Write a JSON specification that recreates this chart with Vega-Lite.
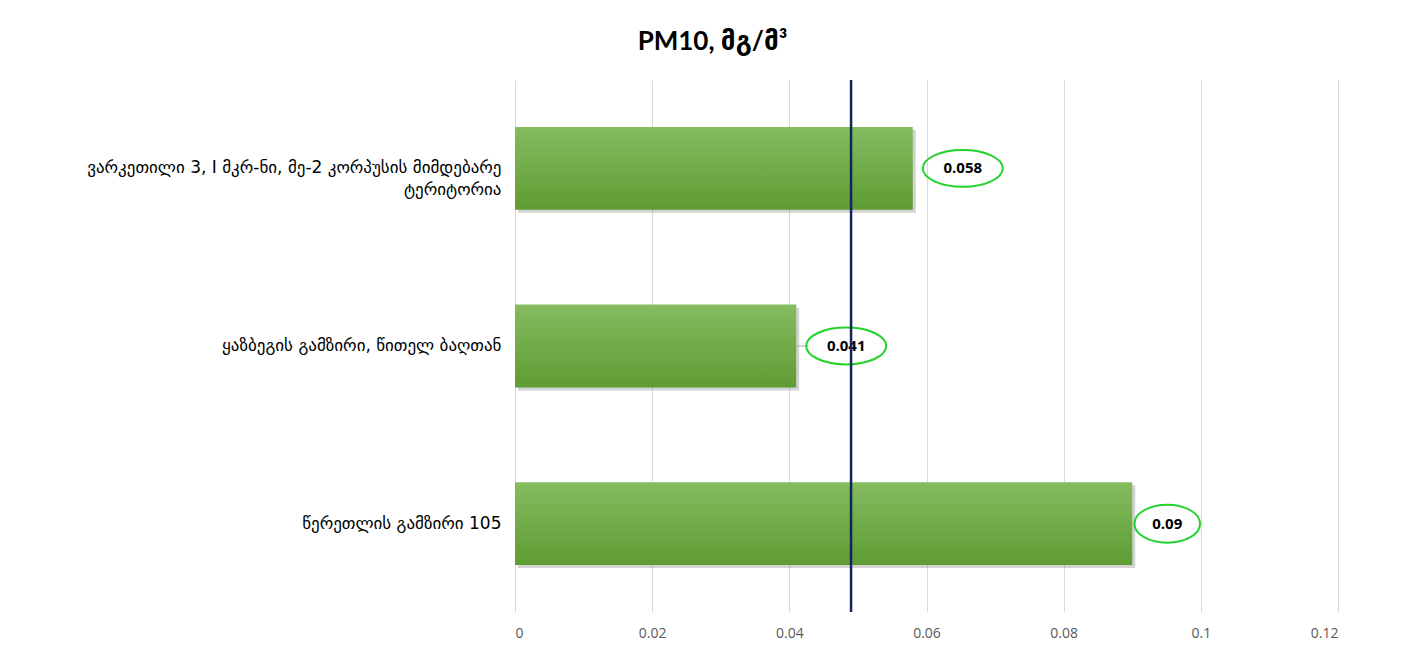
{
  "$schema": "https://vega.github.io/schema/vega-lite/v6.json",
  "autosize": {"type": "none"},
  "width": 823,
  "height": 532,
  "padding": {"left": 515, "top": 80, "right": 88, "bottom": 50},
  "background": "white",
  "title": {
    "text": "PM10,  მგ/მ³",
    "anchor": "middle",
    "dx": -214,
    "offset": 24,
    "fontSize": 26,
    "fontWeight": "bold",
    "font": "Lato, DejaVu Sans",
    "color": "#000000"
  },
  "config": {"view": {"stroke": null}},
  "data": {
    "values": [
      {"location": "ვარკეთილი 3, I მკრ-ნი, მე-2 კორპუსის მიმდებარე|ტერიტორია", "value": 0.058},
      {"location": "ყაზბეგის გამზირი, წითელ ბაღთან", "value": 0.041},
      {"location": "წერეთლის გამზირი 105", "value": 0.09}
    ]
  },
  "layer": [
    {
      "encoding": {
        "y": {
          "field": "location",
          "type": "nominal",
          "sort": null,
          "scale": {"paddingInner": 0.534, "paddingOuter": 0.264},
          "axis": {
            "title": null,
            "domain": false,
            "ticks": false,
            "labelPadding": 14,
            "labelFont": "DejaVu Sans",
            "labelFontSize": 17,
            "labelColor": "#000000",
            "labelLimit": 600,
            "labelLineHeight": 22,
            "labelExpr": "split(datum.label, '|')"
          }
        }
      },
      "layer": [
        {
          "mark": {"type": "bar", "color": "#7f7f7f", "opacity": 0.35, "xOffset": 3, "yOffset": 3, "x2Offset": 3},
          "encoding": {
            "x": {
              "field": "value",
              "type": "quantitative",
              "scale": {"domain": [0, 0.12], "nice": false},
              "axis": {
                "title": null,
                "values": [0, 0.02, 0.04, 0.06, 0.08, 0.1, 0.12],
                "format": "~g",
                "domain": false,
                "ticks": false,
                "grid": true,
                "gridColor": "#d9d9d9",
                "labelFont": "Open Sans",
                "labelFontSize": 14,
                "labelColor": "#595959",
                "labelPadding": 14
              }
            }
          }
        },
        {
          "mark": {
            "type": "bar",
            "color": {
              "gradient": "linear",
              "x1": 0, "y1": 0, "x2": 0, "y2": 1,
              "stops": [
                {"offset": 0, "color": "#84bc60"},
                {"offset": 1, "color": "#5e9c33"}
              ]
            }
          },
          "encoding": {
            "x": {"field": "value", "type": "quantitative"}
          }
        },
        {
          "transform": [{"filter": "datum.value == 0.041"}],
          "mark": {"type": "rule", "color": "#a6a6a6", "strokeWidth": 1, "x2Offset": 12},
          "encoding": {
            "x": {"field": "value", "type": "quantitative"},
            "x2": {"field": "value"}
          }
        },
        {
          "transform": [{"filter": "datum.value != 0.09"}],
          "mark": {
            "type": "point",
            "shape": "M-1,0 A1,0.46 0 1,1 1,0 A1,0.46 0 1,1 -1,0 Z",
            "size": 6400,
            "filled": true,
            "fill": "white",
            "fillOpacity": 0,
            "stroke": "#22d32b",
            "strokeWidth": 2,
            "xOffset": 50
          },
          "encoding": {
            "x": {"field": "value", "type": "quantitative"}
          }
        },
        {
          "transform": [{"filter": "datum.value == 0.09"}],
          "mark": {
            "type": "point",
            "shape": "M-1,0 A1,0.58 0 1,1 1,0 A1,0.58 0 1,1 -1,0 Z",
            "size": 4300,
            "filled": true,
            "fill": "white",
            "fillOpacity": 0,
            "stroke": "#22d32b",
            "strokeWidth": 2,
            "xOffset": 35
          },
          "encoding": {
            "x": {"field": "value", "type": "quantitative"}
          }
        },
        {
          "transform": [{"filter": "datum.value != 0.09"}],
          "mark": {"type": "text", "font": "Open Sans", "fontSize": 15, "fontWeight": "bold", "color": "#000000", "dx": 50, "align": "center", "baseline": "middle"},
          "encoding": {
            "x": {"field": "value", "type": "quantitative"},
            "text": {"field": "value", "type": "quantitative", "format": "~g"}
          }
        },
        {
          "transform": [{"filter": "datum.value == 0.09"}],
          "mark": {"type": "text", "font": "Open Sans", "fontSize": 15, "fontWeight": "bold", "color": "#000000", "dx": 35, "align": "center", "baseline": "middle"},
          "encoding": {
            "x": {"field": "value", "type": "quantitative"},
            "text": {"field": "value", "type": "quantitative", "format": "~g"}
          }
        }
      ]
    },
    {
      "data": {"values": [{"limit": 0.049}]},
      "mark": {"type": "rule", "color": "#13265c", "strokeWidth": 2.5},
      "encoding": {
        "x": {"field": "limit", "type": "quantitative"}
      }
    }
  ]
}
